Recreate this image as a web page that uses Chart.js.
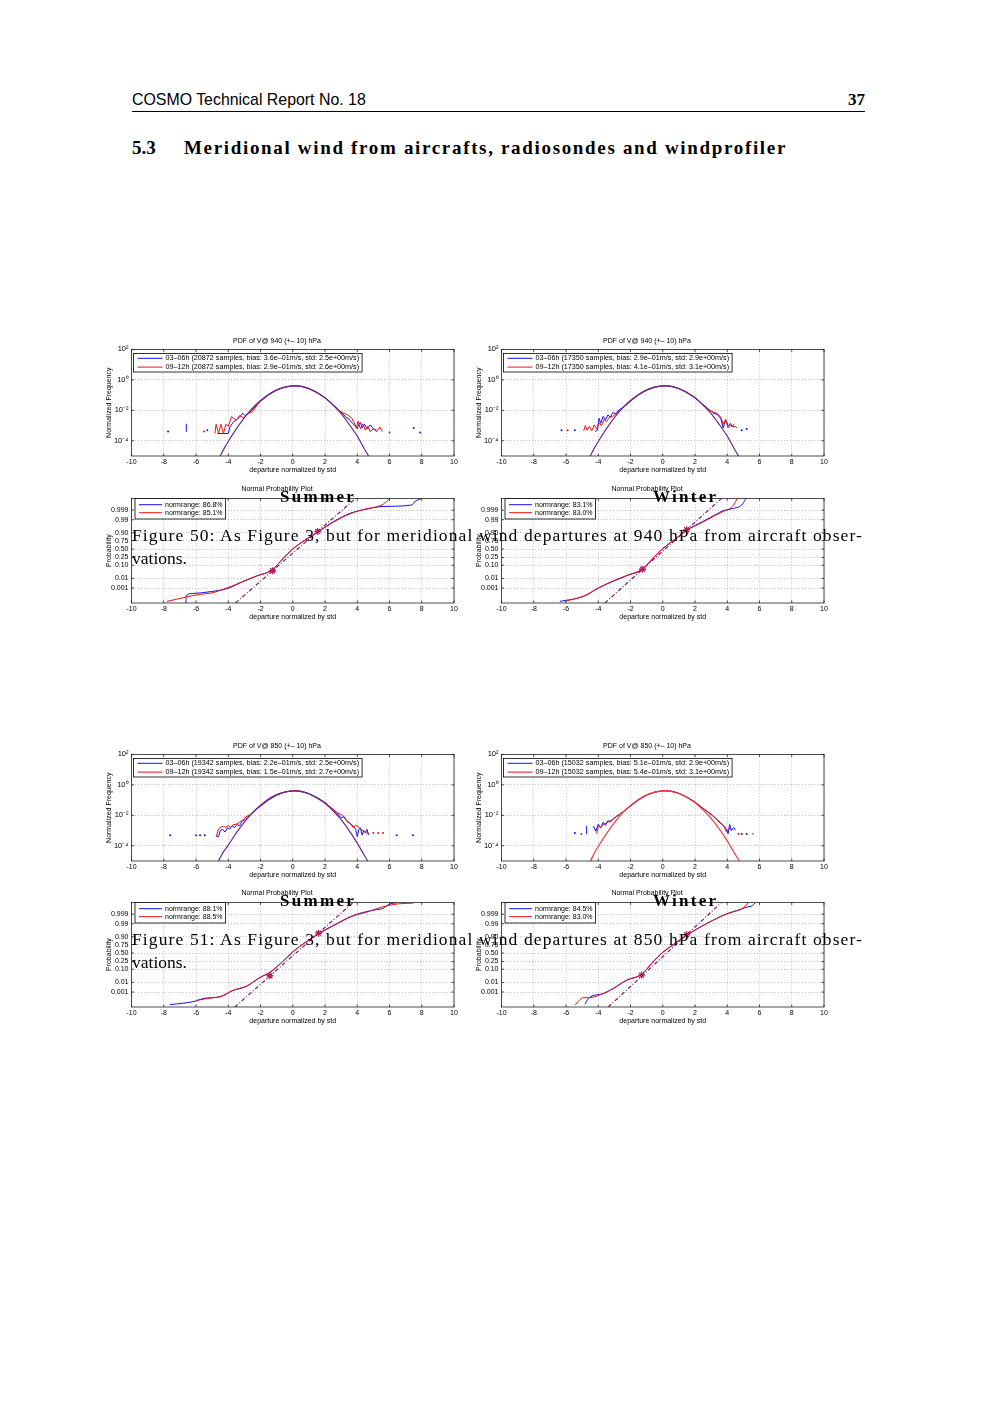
<!DOCTYPE html>
<html lang="en">
<head>
<meta charset="UTF-8">
<title>COSMO Technical Report No. 18 - p.37</title>
<script src="https://cdn.jsdelivr.net/npm/chart.js"></script>
<style>
    body {
        margin: 0;
        background: #fff;
    }
    .page {
        position: relative;
        width: 1000px;
        height: 1413px;
        overflow: hidden;
        color: #000;
    }
    .txt {
        position: absolute;
        white-space: nowrap;
        line-height: 1;
        z-index: 3;
    }
    .serif { font-family: "Liberation Serif", "DejaVu Serif", serif; }
    .sans { font-family: "Liberation Sans", Arial, sans-serif; }
    .season { font-family: "Liberation Serif", serif; font-weight: bold; font-size: 17px; letter-spacing: 2.3px; }
    .caption { font-family: "Liberation Serif", serif; font-size: 17.5px; }
    canvas {
        position: absolute;
        z-index: 1;
    }
</style>
</head>
<body>
<div class="page">
    <div class="txt sans" style="left:132px; top:91.5px; font-size:15.9px;">COSMO Technical Report No. 18</div>
    <div class="txt serif" style="right:135px; top:90.8px; font-size:17px; font-weight:bold;">37</div>
    <div style="position:absolute; left:132px; top:111px; width:733px; border-top:1px solid #000;"></div>

    <div class="txt serif" style="left:132px; top:137.8px; font-size:19px; font-weight:bold;">5.3</div>
    <div class="txt serif fit" data-w="603" style="left:184px; top:137.8px; font-size:19px; font-weight:bold;">Meridional wind from aircrafts, radiosondes and windprofiler</div>

    <!-- Figure 50 -->
    <canvas id="pdfS940" width="370" height="142" style="left:100px; top:333px;"></canvas>
    <canvas id="pdfW940" width="370" height="142" style="left:470px; top:333px;"></canvas>
    <canvas id="probS940" width="370" height="140" style="left:100px; top:482px;"></canvas>
    <canvas id="probW940" width="370" height="140" style="left:470px; top:482px;"></canvas>
    <div class="txt season" style="left:280px; top:488px;">Summer</div>
    <div class="txt season" style="left:653px; top:488px;">Winter</div>
    <div class="txt caption fit" data-w="731" style="left:132px; top:526.8px;">Figure 50: As Figure 3, but for meridional wind departures at 940 hPa from aircraft obser-</div>
    <div class="txt caption" style="left:132px; top:550.1px;">vations.</div>

    <!-- Figure 51 -->
    <canvas id="pdfS850" width="370" height="142" style="left:100px; top:738px;"></canvas>
    <canvas id="pdfW850" width="370" height="142" style="left:470px; top:738px;"></canvas>
    <canvas id="probS850" width="370" height="140" style="left:100px; top:886px;"></canvas>
    <canvas id="probW850" width="370" height="140" style="left:470px; top:886px;"></canvas>
    <div class="txt season" style="left:280px; top:892px;">Summer</div>
    <div class="txt season" style="left:653px; top:892px;">Winter</div>
    <div class="txt caption fit" data-w="731" style="left:132px; top:930.8px;">Figure 51: As Figure 3, but for meridional wind departures at 850 hPa from aircraft obser-</div>
    <div class="txt caption" style="left:132px; top:954.1px;">vations.</div>
</div>

<script>
    // axis ticks
    const xTicks = [-10, -8, -6, -4, -2, 0, 2, 4, 6, 8, 10];
    const pdfTickValues = [1e-4, 1e-2, 1, 100];
    const pdfTickLabels = ['10\u207B\u2074', '10\u207B\u00B2', '10\u2070', '10\u00B2'];
    // normal probability axis: quantile positions and their labels
    const probTickZ = [-3.09, -2.326, -1.282, -0.674, 0, 0.674, 1.282, 2.326, 3.09];
    const probTickLabels = ['0.001', '0.01', '0.10', '0.25', '0.50', '0.75', '0.90', '0.99', '0.999'];

    // ---- 940 hPa, summer ----
    const legS940 = ['03\u201306h (20872 samples, bias: 3.6e\u201301m/s, std: 2.5e+00m/s)',
                     '09\u201312h (20872 samples, bias: 2.9e\u201301m/s, std: 2.6e+00m/s)'];
    const pdfS940Blue = [[-7.73,4e-4],[-7.6,null],[-6.62,4e-4],[-6.6,1.3e-3],[-6.5,null],[-5.3,5e-4],[-5.2,null],
        [-4.67,3e-4],[-4.3,3e-4],[-4.0,3e-4],[-3.9,8e-4],[-3.7,1.6e-3],[-3.5,2.4e-3],[-3.3,3.5e-3],[-3.1,6.5e-3],
        [-2.95,4.5e-3],[-2.8,6e-3],[-2.6,9e-3],[-2.4,1.4e-2],[-2.2,2.4e-2],[-2.0,3.9e-2],[-1.5,0.1],[-1.0,0.21],
        [-0.5,0.33],[0,0.4],[0.3,0.41],[0.6,0.37],[1.0,0.27],[1.5,0.15],[2.0,0.068],[2.4,0.03],[2.8,0.012],
        [3.1,6e-3],[3.3,3.5e-3],[3.5,2.6e-3],[3.7,1.4e-3],[3.85,1e-3],[4.0,6e-4],[4.1,1.2e-3],[4.2,1.6e-3],
        [4.3,7e-4],[4.45,1.2e-3],[4.6,6e-4],[4.8,1.1e-3],[5.0,6e-4],[5.2,5e-4],[5.3,null],[7.5,7e-4],[7.6,null],[7.9,3.5e-4]];
    const pdfS940Red = [[-5.5,4e-4],[-5.4,null],[-4.83,3e-4],[-4.75,1.2e-3],[-4.6,3e-4],[-4.45,1.2e-3],[-4.3,3e-4],
        [-4.15,1.2e-3],[-4.0,9e-4],[-3.8,3.8e-3],[-3.5,2.3e-3],[-3.3,4.5e-3],[-3.05,3.2e-3],[-2.8,5.8e-3],[-2.5,8e-3],
        [-2.3,1.6e-2],[-2.0,4e-2],[-1.5,0.11],[-1.0,0.22],[-0.5,0.34],[0,0.41],[0.3,0.4],[0.6,0.36],[1.0,0.26],
        [1.5,0.14],[2.0,0.065],[2.4,0.028],[2.8,0.011],[3.1,7e-3],[3.4,5e-3],[3.65,3.2e-3],[3.8,1.6e-3],[3.95,7e-4],
        [4.05,2e-3],[4.2,6e-4],[4.35,1.3e-3],[4.5,5e-4],[4.65,9e-4],[4.8,4e-4],[5.0,6e-4],[5.2,4e-4],[5.4,8e-4],
        [5.55,4e-4],[5.6,null],[6.0,3.5e-4]];
    const pdfS940Fit = [[-4.5,1e-5],[-4.2,4e-5],[-4.0,9e-5],[-3.5,6e-4],[-3.0,3.3e-3],[-2.5,1.4e-2],[-2.0,4.4e-2],
        [-1.5,0.11],[-1.0,0.22],[-0.5,0.33],[0.1,0.4],[0.5,0.37],[1.0,0.27],[1.5,0.15],[2.0,6.6e-2],[2.5,2.2e-2],
        [3.0,6e-3],[3.5,1.2e-3],[4.0,2e-4],[4.4,3.5e-5],[4.7,1e-5]];
    const normS940 = ['normrange: 86.8%', 'normrange: 85.1%'];
    const probS940Blue = [[-6.63,-4.28],[-6.6,-3.7],[-6.2,-3.52],[-5.1,-3.38],[-4.0,-3.11],[-3.1,-2.59],[-2.25,-2.15],
        [-1.3,-1.66],[-0.6,-0.76],[0,0],[0.64,0.62],[1.5,1.32],[2.5,2.16],[3.55,2.83],[4.6,3.18],[5.6,3.38],
        [7.4,3.5],[7.55,3.75],[7.95,3.98]];
    const probS940Red = [[-7.8,-4.15],[-5.8,-3.6],[-5.1,-3.5],[-4.0,-3.05],[-3.1,-2.57],[-2.25,-2.13],[-1.3,-1.68],
        [-0.6,-0.74],[0,0.02],[0.64,0.6],[1.5,1.3],[2.5,2.12],[3.55,2.8],[4.6,3.2],[5.2,3.35],[5.6,3.55],[6.0,3.98]];
    const probS940Ref = [[-3.55,-4.28],[3.9,4.02]];
    const probS940Stars = [[-1.25,-1.72],[1.55,1.4]];

    // ---- 940 hPa, winter ----
    const legW940 = ['03\u201306h (17350 samples, bias: 2.9e\u201301m/s, std: 2.9e+00m/s)',
                     '09\u201312h (17350 samples, bias: 4.1e\u201301m/s, std: 3.1e+00m/s)'];
    const pdfW940Blue = [[-6.28,5e-4],[-6.2,null],[-5.45,5e-4],[-5.4,null],
        [-4.2,4e-4],[-4.05,5e-4],[-3.95,3e-3],[-3.85,1.4e-3],[-3.7,4e-3],[-3.55,2.4e-3],[-3.4,5e-3],[-3.25,3.5e-3],
        [-3.1,7e-3],[-2.9,6e-3],[-2.7,1.1e-2],[-2.4,1.7e-2],[-2.2,2.6e-2],[-2.0,4e-2],[-1.5,0.1],[-1.0,0.21],
        [-0.5,0.33],[0,0.4],[0.3,0.41],[0.6,0.37],[1.0,0.27],[1.5,0.15],[2.0,0.07],[2.4,0.03],[2.8,0.013],
        [3.1,7e-3],[3.4,5e-3],[3.6,2.8e-3],[3.75,7e-4],[3.85,1.6e-3],[3.95,2e-3],[4.05,9e-4],[4.2,1.4e-3],
        [4.3,8e-4],[4.4,1.2e-3],[4.5,null],[4.9,5e-4],[5.0,null],[5.2,6e-4]];
    const pdfW940Red = [[-5.9,5e-4],[-5.8,null],
        [-4.9,4.5e-4],[-4.8,1e-3],[-4.7,5e-4],[-4.55,9e-4],[-4.4,4.5e-4],[-4.25,1.1e-3],[-4.1,6e-4],[-3.95,1.5e-3],
        [-3.8,1e-3],[-3.65,2.5e-3],[-3.5,1.8e-3],[-3.3,3.5e-3],[-3.1,4e-3],[-2.9,6e-3],[-2.7,9e-3],[-2.5,1.4e-2],
        [-2.2,2.5e-2],[-2.0,4.2e-2],[-1.5,0.11],[-1.0,0.22],[-0.5,0.34],[0,0.41],[0.3,0.4],[0.6,0.36],[1.0,0.26],
        [1.5,0.14],[2.0,0.066],[2.4,0.029],[2.8,0.012],[3.1,8e-3],[3.4,6e-3],[3.6,3.5e-3],[3.75,1.2e-3],
        [3.9,2.6e-3],[4.05,7e-4],[4.2,1.1e-3],[4.35,8e-4],[4.5,9e-4],[4.6,7e-4]];
    const pdfW940Fit = [[-4.5,1e-5],[-4.2,4e-5],[-4.0,9e-5],[-3.5,6e-4],[-3.0,3.3e-3],[-2.5,1.4e-2],[-2.0,4.4e-2],
        [-1.5,0.11],[-1.0,0.22],[-0.5,0.33],[0.1,0.4],[0.5,0.37],[1.0,0.27],[1.5,0.15],[2.0,6.6e-2],[2.5,2.2e-2],
        [3.0,6e-3],[3.5,1.2e-3],[4.0,2e-4],[4.4,3.5e-5],[4.7,1e-5]];
    const normW940 = ['normrange: 83.1%', 'normrange: 83.0%'];
    const probW940Blue = [[-6.38,-4.15],[-4.93,-3.77],[-4.0,-3.11],[-3.2,-2.62],[-2.2,-2.1],[-1.25,-1.6],[-0.6,-0.72],
        [0,0.03],[0.7,0.72],[1.48,1.5],[2.5,2.2],[3.3,2.75],[3.75,3.05],[4.3,3.2],[4.9,3.5],[5.15,3.98]];
    const probW940Red = [[-6.07,-4.15],[-4.83,-3.69],[-4.0,-3.08],[-3.2,-2.6],[-2.2,-2.08],[-1.25,-1.58],[-0.6,-0.7],
        [0,0.05],[0.7,0.72],[1.48,1.47],[2.5,2.15],[3.3,2.7],[3.75,2.98],[4.17,3.22],[4.45,3.6],[4.6,3.98]];
    const probW940Ref = [[-3.59,-4.28],[3.65,4.02]];
    const probW940Stars = [[-1.25,-1.6],[1.48,1.53]];

    // ---- 850 hPa, summer ----
    const legS850 = ['03\u201306h (19342 samples, bias: 2.2e\u201301m/s, std: 2.5e+00m/s)',
                     '09\u201312h (19342 samples, bias: 1.5e\u201301m/s, std: 2.7e+00m/s)'];
    const pdfS850Blue = [[-7.6,5e-4],[-7.5,null],[-6.0,5e-4],[-5.9,null],[-5.75,5e-4],[-5.6,null],[-5.45,5e-4],[-5.3,null],
        [-4.73,4e-4],[-4.6,4e-4],[-4.5,1e-3],[-4.35,1.2e-3],[-4.2,8e-4],[-4.05,1.5e-3],[-3.9,1.3e-3],[-3.75,2e-3],
        [-3.6,1.6e-3],[-3.45,2.5e-3],[-3.3,2e-3],[-3.15,4e-3],[-3.0,5e-3],[-2.8,7.5e-3],[-2.6,1.1e-2],[-2.3,2.2e-2],
        [-2.0,4e-2],[-1.5,0.1],[-1.0,0.21],[-0.5,0.33],[0,0.4],[0.3,0.41],[0.6,0.37],[1.0,0.27],[1.5,0.15],
        [2.0,0.07],[2.4,0.03],[2.8,0.012],[3.0,7e-3],[3.2,8e-3],[3.35,4e-3],[3.55,3e-3],[3.75,2e-3],[3.9,1.2e-3],
        [4.0,4e-4],[4.1,1.2e-3],[4.2,1.5e-3],[4.3,5e-4],[4.4,1e-3],[4.5,7e-4],[4.6,1.2e-3],[4.7,5e-4],[4.8,null],
        [6.45,5e-4],[6.5,null],[7.45,5e-4]];
    const pdfS850Red = [[-4.75,4e-4],[-4.6,1.3e-3],[-4.45,1.7e-3],[-4.3,1.9e-3],[-4.15,1.6e-3],[-4.0,2.1e-3],
        [-3.85,1.7e-3],[-3.7,2.4e-3],[-3.5,2.6e-3],[-3.3,3.5e-3],[-3.1,5e-3],[-2.9,8e-3],[-2.6,1.2e-2],[-2.3,2.3e-2],
        [-2.0,4.2e-2],[-1.5,0.11],[-1.0,0.22],[-0.5,0.34],[0,0.41],[0.3,0.4],[0.6,0.36],[1.0,0.26],[1.5,0.14],
        [2.0,0.066],[2.4,0.03],[2.8,0.014],[3.1,1e-2],[3.3,5e-3],[3.55,3e-3],[3.75,1.6e-3],[3.9,2.2e-3],[4.05,1.9e-3],
        [4.2,1.2e-3],[4.37,1e-3],[4.55,7e-4],[4.7,7e-4],[4.85,null],[5.0,7e-4],[5.15,null],[5.3,7e-4],[5.45,null],[5.6,7e-4]];
    const pdfS850Fit = [[-4.6,1e-5],[-4.3,4e-5],[-4.0,1.1e-4],[-3.5,7e-4],[-3.0,3.6e-3],[-2.5,1.5e-2],[-2.0,4.6e-2],
        [-1.5,0.12],[-1.0,0.23],[-0.5,0.34],[0.05,0.4],[0.5,0.36],[1.0,0.26],[1.5,0.14],[2.0,6.2e-2],[2.5,2e-2],
        [3.0,5.2e-3],[3.5,1e-3],[4.0,1.5e-4],[4.4,2.8e-5],[4.65,1e-5]];
    const normS850 = ['normrange: 88.1%', 'normrange: 88.5%'];
    const probS850Blue = [[-7.62,-4.1],[-5.97,-3.8],[-5.55,-3.6],[-4.52,-3.48],[-3.69,-2.96],[-2.86,-2.64],[-2.04,-1.95],
        [-1.42,-1.55],[-0.6,-0.65],[0,0.08],[0.7,0.78],[1.58,1.53],[2.51,2.19],[3.75,2.98],[5.2,3.45],[5.5,3.5],
        [6.03,3.9],[6.44,3.98]];
    const probS850Red = [[-5.97,-3.75],[-5.0,-3.55],[-4.5,-3.45],[-3.69,-2.95],[-2.86,-2.62],[-2.04,-1.93],[-1.42,-1.52],
        [-0.6,-0.63],[0,0.1],[0.7,0.78],[1.58,1.5],[2.51,2.16],[3.75,2.95],[4.6,3.25],[5.41,3.61],[6.5,3.9],[7.48,3.96]];
    const probS850Ref = [[-3.59,-4.28],[3.75,4.02]];
    const probS850Stars = [[-1.42,-1.8],[1.6,1.58]];

    // ---- 850 hPa, winter ----
    const legW850 = ['03\u201306h (15032 samples, bias: 5.1e\u201301m/s, std: 2.9e+00m/s)',
                     '09\u201312h (15032 samples, bias: 5.4e\u201301m/s, std: 3.1e+00m/s)'];
    const pdfW850Blue = [[-5.45,7e-4],[-5.3,null],[-4.75,6e-4],[-4.72,2e-3],[-4.6,null],
        [-4.3,2e-3],[-4.15,9e-4],[-4.0,2.6e-3],[-3.85,1.5e-3],[-3.7,3.5e-3],[-3.55,2.2e-3],[-3.4,4.5e-3],[-3.25,3.5e-3],
        [-3.05,6e-3],[-2.8,9e-3],[-2.5,1.6e-2],[-2.2,2.8e-2],[-2.0,4e-2],[-1.5,0.1],[-1.0,0.21],[-0.5,0.33],[0,0.4],
        [0.3,0.41],[0.6,0.38],[1.0,0.28],[1.5,0.16],[2.0,0.075],[2.4,0.035],[2.8,0.017],[3.1,1e-2],[3.3,6e-3],
        [3.5,3.5e-3],[3.65,2.7e-3],[3.8,2e-3],[3.95,1.2e-3],[4.05,6e-4],[4.15,2.5e-3],[4.25,1e-3],[4.4,1.6e-3],
        [4.5,1.1e-3],[4.6,null],[4.9,6e-4],[5.0,null],[5.2,6e-4],[5.3,null],[5.55,6e-4],[5.65,6e-4]];
    const pdfW850Red = [[-5.05,6e-4],[-4.95,null],
        [-4.1,6e-4],[-4.0,2e-3],[-3.85,1.6e-3],[-3.7,2.5e-3],[-3.5,3e-3],[-3.3,4.2e-3],[-3.1,5.5e-3],[-2.85,9e-3],
        [-2.5,1.6e-2],[-2.2,2.8e-2],[-2.0,4.2e-2],[-1.5,0.11],[-1.0,0.22],[-0.5,0.34],[0,0.41],[0.3,0.4],[0.6,0.37],
        [1.0,0.27],[1.5,0.15],[2.0,0.072],[2.4,0.033],[2.8,0.016],[3.1,9e-3],[3.4,5e-3],[3.6,3.2e-3],[3.8,1.8e-3],
        [3.95,8e-4],[4.1,1.4e-3],[4.3,1e-3],[4.4,null],[4.7,6e-4]];
    const pdfW850Fit = [[-4.48,1e-5],[-4.2,4e-5],[-4.0,9e-5],[-3.5,6e-4],[-3.0,3.3e-3],[-2.5,1.4e-2],[-2.0,4.4e-2],
        [-1.5,0.11],[-1.0,0.22],[-0.5,0.33],[0.1,0.4],[0.5,0.37],[1.0,0.27],[1.5,0.15],[2.0,6.7e-2],[2.5,2.3e-2],
        [3.0,6.2e-3],[3.5,1.3e-3],[4.0,2.1e-4],[4.4,4e-5],[4.75,1e-5]];
    const normW850 = ['normrange: 84.5%', 'normrange: 83.0%'];
    const probW850Blue = [[-4.83,-4.06],[-4.56,-3.54],[-3.69,-3.22],[-3.07,-2.82],[-2.24,-2.16],[-1.31,-1.7],[-0.6,-0.7],
        [0,0.05],[0.7,0.7],[1.48,1.4],[2.51,2.19],[3.96,3.11],[4.79,3.45],[5.3,3.68],[5.5,3.72],[5.72,3.98]];
    const probW850Red = [[-5.45,-4.14],[-4.93,-3.54],[-4.56,-3.54],[-3.69,-3.2],[-3.07,-2.8],[-2.24,-2.14],[-1.31,-1.68],
        [-0.6,-0.68],[0,0.07],[0.7,0.72],[1.48,1.42],[2.51,2.2],[3.96,3.1],[4.79,3.45],[5.0,3.6],[5.3,3.98]];
    const probW850Ref = [[-3.38,-4.28],[3.65,4.02]];
    const probW850Stars = [[-1.31,-1.75],[1.48,1.45]];

    const BLUE = '#1010f0';
    const RED = '#f01010';
    const PURPLE = '#6a2a8c';
    const REFCOL = '#7a1e64';

    // stretch a text line to the printed width with letter spacing
    document.querySelectorAll('.fit').forEach(el => {
        const target = +el.dataset.w;
        const n = el.textContent.length;
        const natural = el.getBoundingClientRect().width;
        el.style.letterSpacing = ((target - natural) / n) + 'px';
    });

    Chart.defaults.font.family = "'Liberation Sans', Arial, sans-serif";
    Chart.defaults.font.size = 7;
    Chart.defaults.color = '#000';

    // dot for single bins that have empty neighbours (matlab draws them as points)
    function isolatedRadius(ctx) {
        const d = ctx.dataset.data, i = ctx.dataIndex;
        if (!d[i] || d[i][1] == null) return 0;
        const prevGap = i === 0 || d[i - 1][1] == null;
        const nextGap = i === d.length - 1 || d[i + 1][1] == null;
        return prevGap && nextGap ? 1 : 0;
    }

    // box around plot area with inward ticks
    const frame = {
        id: 'frame',
        afterDraw(chart) {
            const {ctx, chartArea: a, scales} = chart;
            ctx.save();
            ctx.strokeStyle = '#222';
            ctx.lineWidth = 0.8;
            ctx.strokeRect(a.left, a.top, a.right - a.left, a.bottom - a.top);
            ctx.beginPath();
            scales.x.ticks.forEach(t => {
                const p = scales.x.getPixelForValue(t.value);
                ctx.moveTo(p, a.bottom); ctx.lineTo(p, a.bottom - 2.5);
                ctx.moveTo(p, a.top); ctx.lineTo(p, a.top + 2.5);
            });
            scales.y.ticks.forEach(t => {
                const p = scales.y.getPixelForValue(t.value);
                ctx.moveTo(a.left, p); ctx.lineTo(a.left + 2.5, p);
                ctx.moveTo(a.right, p); ctx.lineTo(a.right - 2.5, p);
            });
            ctx.stroke();
            ctx.restore();
        }
    };

    // matlab style legend box inside the axes
    const boxLegend = {
        id: 'boxLegend',
        afterDraw(chart, args, opts) {
            const {ctx, chartArea} = chart;
            const items = chart.data.datasets.filter(d => d.inLegend);
            ctx.save();
            ctx.font = opts.fontSize + "px 'Liberation Sans', Arial, sans-serif";
            const tw = Math.max(...items.map(d => ctx.measureText(d.label).width));
            const x = chartArea.left + opts.dx;
            const y = chartArea.top + opts.dy;
            const w = 4 + opts.lineLen + 3 + tw + 3;
            const h = items.length * opts.rowH + 2 * opts.pad;
            ctx.fillStyle = '#fff';
            ctx.fillRect(x, y, w, h);
            ctx.strokeStyle = '#000';
            ctx.lineWidth = 0.8;
            ctx.strokeRect(x, y, w, h);
            items.forEach((d, i) => {
                const yy = y + opts.pad + opts.rowH * (i + 0.5);
                ctx.strokeStyle = d.borderColor;
                ctx.lineWidth = 1;
                ctx.beginPath();
                ctx.moveTo(x + 4, yy);
                ctx.lineTo(x + 4 + opts.lineLen, yy);
                ctx.stroke();
                ctx.fillStyle = '#000';
                ctx.textBaseline = 'middle';
                ctx.fillText(d.label, x + 7 + opts.lineLen, yy);
            });
            ctx.restore();
        }
    };

    const gridOpts = { color: '#9a9a9a', lineWidth: 0.6, drawTicks: false };
    const borderOpts = { display: false, dash: [1, 2] };

    function xScale() {
        return {
            type: 'linear',
            min: -10,
            max: 10,
            afterBuildTicks: s => { s.ticks = xTicks.map(v => ({value: v})); },
            afterFit: s => { s.height = 19; },
            ticks: { padding: 2, maxRotation: 0, autoSkip: false },
            grid: gridOpts,
            border: borderOpts,
            title: { display: true, text: 'departure normalized by std', padding: {top: 0, bottom: 1} }
        };
    }

    function pdfChart(id, blue, red, fit, fitColor, labels, title) {
        return new Chart(document.getElementById(id), {
            type: 'line',
            data: {
                datasets: [
                    { label: labels[0], data: blue, borderColor: BLUE, backgroundColor: BLUE, inLegend: true, order: 2,
                      pointRadius: isolatedRadius, pointBorderWidth: 0 },
                    { label: labels[1], data: red, borderColor: RED, backgroundColor: RED, inLegend: true, order: 1,
                      pointRadius: isolatedRadius, pointBorderWidth: 0 },
                    { label: 'fit', data: fit, borderColor: fitColor, borderWidth: 1.2, order: 0, pointRadius: 0,
                      cubicInterpolationMode: 'monotone' }
                ]
            },
            options: {
                responsive: false,
                animation: false,
                layout: { padding: { right: 16 } },
                elements: { line: { borderWidth: 1, fill: false } },
                plugins: {
                    legend: { display: false },
                    tooltip: { enabled: false },
                    title: { display: true, text: title, font: {size: 7, weight: 'normal'}, padding: {top: 4, bottom: 4} },
                    boxLegend: { dx: 2, dy: 4, rowH: 8.8, pad: 0.5, lineLen: 25, fontSize: 7.2 }
                },
                scales: {
                    x: xScale(),
                    y: {
                        type: 'logarithmic',
                        min: 1e-5,
                        max: 100,
                        afterBuildTicks: s => { s.ticks = pdfTickValues.map(v => ({value: v})); },
                        afterFit: s => { s.width = 31.5; },
                        ticks: { padding: 3, autoSkip: false, font: {size: 7.5},
                                 callback: v => pdfTickLabels[pdfTickValues.indexOf(v)] },
                        grid: gridOpts,
                        border: borderOpts,
                        title: { display: true, text: 'Normalized Frequency', padding: {top: 4.5, bottom: 0} }
                    }
                }
            },
            plugins: [frame, boxLegend]
        });
    }

    function probChart(id, blue, red, ref, stars, labels) {
        return new Chart(document.getElementById(id), {
            type: 'line',
            data: {
                datasets: [
                    { label: labels[0], data: blue, borderColor: BLUE, inLegend: true, order: 3, pointRadius: 0,
                      cubicInterpolationMode: 'monotone' },
                    { label: labels[1], data: red, borderColor: RED, inLegend: true, order: 2, pointRadius: 0,
                      cubicInterpolationMode: 'monotone' },
                    { label: 'reference', data: ref, borderColor: REFCOL, borderWidth: 1.2, borderDash: [4, 2, 1, 2],
                      order: 1, pointRadius: 0 },
                    { label: 'quartiles', data: stars, showLine: false, order: 0, pointStyle: 'star', pointRadius: 3.5,
                      pointBorderColor: '#b51e5a', pointBorderWidth: 1.3 }
                ]
            },
            options: {
                responsive: false,
                animation: false,
                layout: { padding: { right: 16 } },
                elements: { line: { borderWidth: 1, fill: false } },
                plugins: {
                    legend: { display: false },
                    tooltip: { enabled: false },
                    title: { display: true, text: 'Normal Probability Plot', font: {size: 7, weight: 'normal'}, padding: {top: 3, bottom: 5} },
                    boxLegend: { dx: 3.5, dy: 0, rowH: 8, pad: 2.3, lineLen: 23, fontSize: 7 }
                },
                scales: {
                    x: xScale(),
                    y: {
                        type: 'linear',
                        min: -4.28,
                        max: 4.02,
                        afterBuildTicks: s => { s.ticks = probTickZ.map(v => ({value: v})); },
                        afterFit: s => { s.width = 31.5; },
                        ticks: { padding: 3, autoSkip: false, callback: v => probTickLabels[probTickZ.indexOf(v)] },
                        grid: gridOpts,
                        border: borderOpts,
                        title: { display: true, text: 'Probability', padding: {top: 4.5, bottom: 0} }
                    }
                }
            },
            plugins: [frame, boxLegend]
        });
    }

    pdfChart('pdfS940', pdfS940Blue, pdfS940Red, pdfS940Fit, PURPLE, legS940, 'PDF of V@ 940 (+\u2013 10) hPa');
    pdfChart('pdfW940', pdfW940Blue, pdfW940Red, pdfW940Fit, PURPLE, legW940, 'PDF of V@ 940 (+\u2013 10) hPa');
    pdfChart('pdfS850', pdfS850Blue, pdfS850Red, pdfS850Fit, PURPLE, legS850, 'PDF of V@ 850 (+\u2013 10) hPa');
    pdfChart('pdfW850', pdfW850Blue, pdfW850Red, pdfW850Fit, '#f03c3c', legW850, 'PDF of V@ 850 (+\u2013 10) hPa');

    probChart('probS940', probS940Blue, probS940Red, probS940Ref, probS940Stars, normS940);
    probChart('probW940', probW940Blue, probW940Red, probW940Ref, probW940Stars, normW940);
    probChart('probS850', probS850Blue, probS850Red, probS850Ref, probS850Stars, normS850);
    probChart('probW850', probW850Blue, probW850Red, probW850Ref, probW850Stars, normW850);
</script>
</body>
</html>
